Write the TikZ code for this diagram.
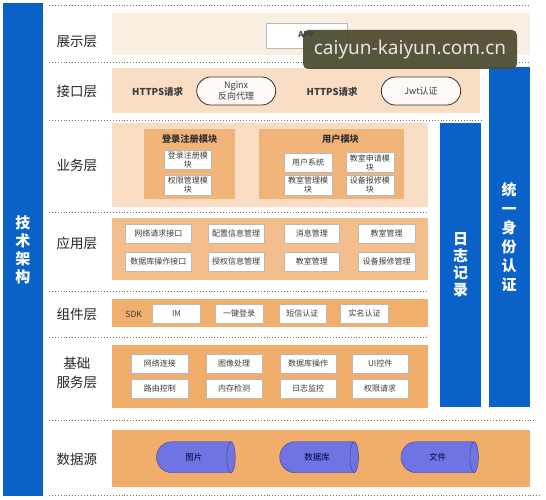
\documentclass[tikz,border=0pt]{standalone}
\usepackage{fontspec}
\setmainfont{Noto Sans CJK SC}
\newfontfamily\markfont{Noto Sans}
\usepackage{tikz}
\usetikzlibrary{positioning,shapes.geometric,shapes.misc}

\definecolor{barblue}{RGB}{10,98,200}
\definecolor{bandpale}{RGB}{249,238,226}
\definecolor{bandlight}{RGB}{249,221,196}
\definecolor{bandmid}{RGB}{243,190,140}
\definecolor{bandorange}{RGB}{240,174,106}
\definecolor{modorange}{RGB}{240,180,120}
\definecolor{boxgray}{RGB}{190,185,180}
\definecolor{txtgray}{RGB}{60,60,60}
\definecolor{cylfill}{RGB}{112,116,226}
\definecolor{cyldraw}{RGB}{60,60,150}
\definecolor{markbg}{RGB}{76,74,46}

\begin{document}
\begin{tikzpicture}[x=1pt,y=-1pt,
	band/.style={rectangle,draw=none,inner sep=0pt},
	bluebar/.style={rectangle,fill=barblue,inner sep=0pt,text=white,align=center,
		font=\fontsize{15}{18}\selectfont\bfseries},
	layer/.style={font=\fontsize{13.5}{15}\selectfont,text=black!85,align=center},
	wbox/.style={rectangle,draw=boxgray,fill=white,inner sep=0pt,text=txtgray,
		align=center,font=\fontsize{8}{9}\selectfont},
	pill/.style={rounded rectangle,draw=black!80,thick,fill=white!96!orange,
		inner sep=0pt,align=center,text=txtgray,font=\fontsize{9}{10.5}\selectfont},
	modbox/.style={rectangle,fill=modorange,inner sep=0pt},
	modtitle/.style={font=\fontsize{9.2}{10}\selectfont\bfseries,text=black!80},
	cyl/.style={rounded rectangle,rounded rectangle right arc=none,draw=cyldraw,
		fill=cylfill,inner sep=0pt,minimum height=31,text=black!70!blue,
		font=\fontsize{8.5}{9}\selectfont},
	cylend/.style={draw=cyldraw,fill=cylfill},
	sep/.style={draw=black!55,dotted,line width=0.9pt}]
	
	\useasboundingbox[fill=white] (0,0) rectangle (546,500);
	
	% dotted separators
	\draw[sep] (49,5) -- (530,5);
	\draw[sep] (49,62) -- (530,62);
	\draw[sep] (49,120) -- (482,120);
	\draw[sep] (49,212) -- (428,212);
	\draw[sep] (49,291) -- (428,291);
	\draw[sep] (49,337) -- (428,337);
	\draw[sep] (49,420) -- (535,420);
	\draw[sep] (49,495) -- (541,495);
	
	% blue side bars
	\node[bluebar,minimum width=40,minimum height=493] (tech) at (23,249.5)
	{技\\术\\架\\构};
	\node[bluebar,minimum width=41.7,minimum height=284,
		font=\fontsize{15}{17}\selectfont\bfseries] (log) at (460.6,265)
	{日\\志\\记\\录};
	\node[bluebar,minimum width=41,minimum height=340,
		font=\fontsize{15}{19}\selectfont\bfseries] (auth) at (509,237)
	{统\\一\\身\\份\\认\\证};
	
	% layer bands
	\node[band,fill=bandpale,minimum width=418,minimum height=42] (show) at (321,34) {};
	\node[band,fill=bandlight,minimum width=368.5,minimum height=45] (api) at (296.2,90.5) {};
	\node[band,fill=bandlight,minimum width=316.3,minimum height=84] (biz) at (270.1,165) {};
	\node[band,fill=bandmid,minimum width=316.3,minimum height=62] (app) at (270.1,249) {};
	\node[band,fill=bandorange!92!bandmid,minimum width=316.3,minimum height=28] (cmp) at (270.1,313) {};
	\node[band,fill=bandorange,minimum width=316.3,minimum height=63] (base) at (270.1,376.5) {};
	\node[band,fill=bandorange,minimum width=418,minimum height=57] (data) at (321,458.5) {};
	
	% layer names
	\node[layer] (lshow) at (76.8,41.5) {展示层};
	\node[layer] (lapi) at (76.8,91.5) {接口层};
	\node[layer] (lbiz) at (76.8,165) {业务层};
	\node[layer] (lapp) at (76.8,243) {应用层};
	\node[layer] (lcmp) at (76.8,314) {组件层};
	\node[layer,font=\fontsize{13.5}{19}\selectfont] (lbase) at (76.8,373) {基础\\服务层};
	\node[layer] (ldata) at (76.8,459) {数据源};
	
	% presentation
	\node[wbox,minimum width=81,minimum height=25] (appbox) at (307,35.5) {};
	
	% interface
	\node[font=\fontsize{9.5}{10}\selectfont\bfseries,text=txtgray] (https1) at (157.7,92) {HTTPS请求};
	\node[pill,minimum width=79,minimum height=28] (nginx) at (236.2,91) {Nginx\\反向代理};
	\node[font=\fontsize{9.5}{10}\selectfont\bfseries,text=txtgray] (https2) at (332.2,92) {HTTPS请求};
	\node[pill,minimum width=79.4,minimum height=28] (jwt) at (421,91) {Jwt认证};
	
	% business
	\node[modbox,minimum width=90.9,minimum height=70] (mlogin) at (189.6,164) {};
	\node[modbox,minimum width=145.2,minimum height=70] (muser) at (331.6,164) {};
	\node[modtitle] (tlogin) at (189.6,139) {登录注册模块};
	\node[modtitle] (tuser) at (340.5,139) {用户模块};
	\node[wbox,minimum width=47.7,minimum height=19.5] (login1) at (187.8,159.6) {登录注册模\\块};
	\node[wbox,minimum width=47.7,minimum height=20] (login2) at (187.8,185) {权限管理模\\块};
	\node[wbox,minimum width=48,minimum height=19] (user1) at (308,162.5) {用户系统};
	\node[wbox,minimum width=48,minimum height=20] (user2) at (369.8,162.5) {教室申请模\\块};
	\node[wbox,minimum width=48,minimum height=20] (user3) at (308,185) {教室管理模\\块};
	\node[wbox,minimum width=48,minimum height=20] (user4) at (369.8,185) {设备报修模\\块};
	
	% application
	\node[wbox,minimum width=65.8,minimum height=19] (app1) at (158.3,233.5) {网络请求接口};
	\node[wbox,minimum width=56.4,minimum height=19] (app2) at (236.1,233.5) {配置信息管理};
	\node[wbox,minimum width=55.4,minimum height=19] (app3) at (311.8,233.5) {消息管理};
	\node[wbox,minimum width=56.4,minimum height=19] (app4) at (386.5,233.5) {教室管理};
	\node[wbox,minimum width=65.8,minimum height=19] (app5) at (158.3,261.5) {数据库操作接口};
	\node[wbox,minimum width=56.4,minimum height=19] (app6) at (236.1,261.5) {授权信息管理};
	\node[wbox,minimum width=55.4,minimum height=19] (app7) at (311.8,261.5) {教室管理};
	\node[wbox,minimum width=56.4,minimum height=19] (app8) at (386.5,261.5) {设备报修管理};
	
	% components
	\node[font=\fontsize{8.5}{9}\selectfont,text=txtgray] (sdk) at (133.7,314) {SDK};
	\node[wbox,minimum width=48,minimum height=19] (im) at (176.5,313.5) {IM};
	\node[wbox,minimum width=48,minimum height=19] (onekey) at (239.2,313.5) {一键登录};
	\node[wbox,minimum width=47,minimum height=19] (sms) at (302.4,313.5) {短信认证};
	\node[wbox,minimum width=48,minimum height=19] (realname) at (364.6,313.5) {实名认证};
	
	% basic services
	\node[wbox,minimum width=56.4,minimum height=19] (base1) at (159.8,363.5) {网络连接};
	\node[wbox,minimum width=56.4,minimum height=19] (base2) at (234,363.5) {图像处理};
	\node[wbox,minimum width=56.4,minimum height=19] (base3) at (308.2,363.5) {数据库操作};
	\node[wbox,minimum width=56.4,minimum height=19] (base4) at (380.2,363.5) {UI控件};
	\node[wbox,minimum width=56.4,minimum height=19] (base5) at (159.8,388.5) {路由控制};
	\node[wbox,minimum width=56.4,minimum height=19] (base6) at (234,388.5) {内存检测};
	\node[wbox,minimum width=56.4,minimum height=19] (base7) at (308.2,388.5) {日志监控};
	\node[wbox,minimum width=56.4,minimum height=19] (base8) at (380.2,388.5) {权限请求};
	
	% data sources
	\node[cyl,minimum width=74.3] (img) at (193.9,457.2) {图片};
	\node[cyl,minimum width=74.3] (db) at (317.1,457.2) {数据库};
	\node[cyl,minimum width=73] (file) at (437.7,457.2) {文件};
	\draw[cylend] (img.east) ellipse (4.2 and 15.5);
	\draw[cylend] (db.east) ellipse (4.2 and 15.5);
	\draw[cylend] (file.east) ellipse (4.2 and 15.5);
	
	% watermark
	\node[rectangle,rounded corners=5pt,fill=markbg,fill opacity=0.93,text opacity=1,
		minimum width=214,minimum height=39,text=white!90!black,
		font=\markfont\fontsize{19}{21}\selectfont] (mark) at (410,49.5)
	{caiyun-kaiyun.com.cn};
	\node[font=\fontsize{8}{9}\selectfont\bfseries,text=black!75] (apptext) at (306.5,34.5) {APP};
	
\end{tikzpicture}
\end{document}
